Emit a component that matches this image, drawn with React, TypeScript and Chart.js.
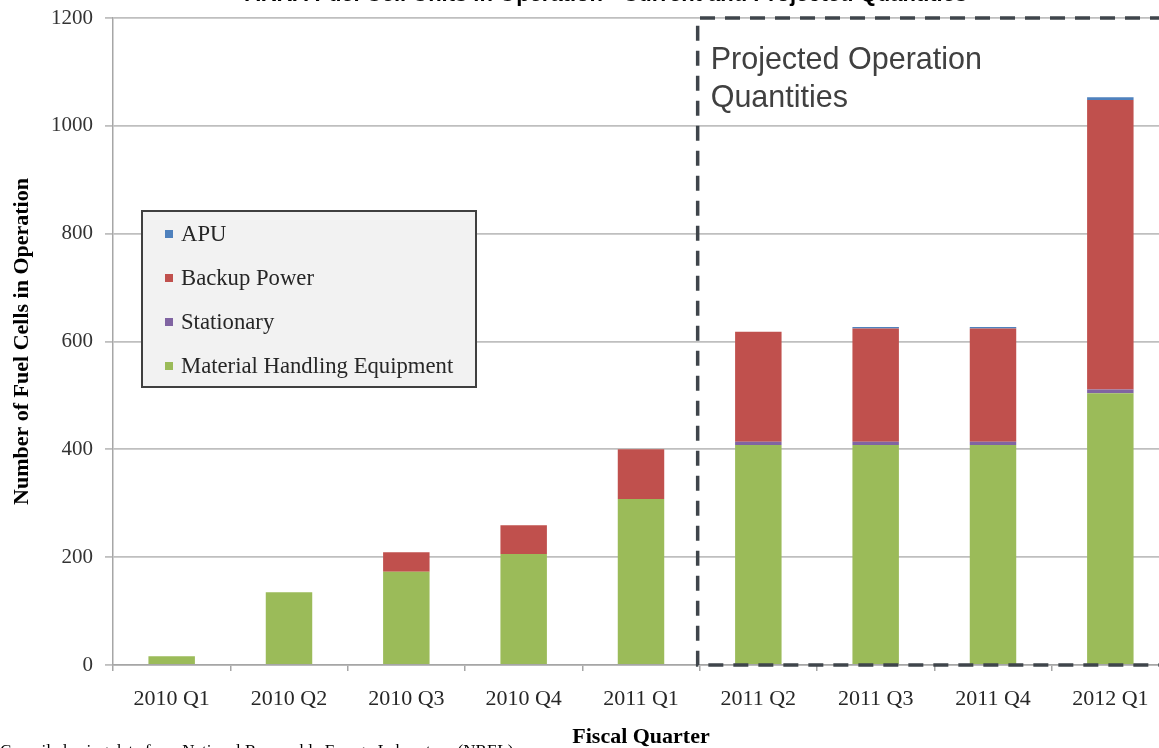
import React, { useEffect, useRef } from 'react';
import { Chart, registerables } from 'chart.js';

Chart.register(...registerables);

const categories = ['2010 Q1', '2010 Q2', '2010 Q3', '2010 Q4', '2011 Q1', '2011 Q2', '2011 Q3', '2011 Q4', '2012 Q1'];
const materialHandling = [16, 135, 173, 206, 308, 408, 408, 408, 504];
const stationary = [0, 0, 0, 0, 0, 6, 6, 6, 7];
const backupPower = [0, 0, 36, 53, 92, 204, 210, 210, 537];
const apu = [0, 0, 0, 0, 0, 0, 3, 3, 5];
const yTicks = [0, 200, 400, 600, 800, 1000, 1200];

const titleText = 'ARRA Fuel Cell Units in Operation - Current and Projected Quantities';
const projectedLines = ['Projected Operation', 'Quantities'];
const noteText = 'Compiled using data from National Renewable Energy Laboratory (NREL)';

const SERIF = '"Liberation Serif", "Times New Roman", serif';
const SANS = '"Liberation Sans", Arial, sans-serif';

const legendItems = [
  { label: 'APU', color: '#4F81BD' },
  { label: 'Backup Power', color: '#C0504D' },
  { label: 'Stationary', color: '#8064A2' },
  { label: 'Material Handling Equipment', color: '#9BBB59' },
];

const overlayPlugin = {
  id: 'overlay',
  afterDatasetsDraw(chart: any) {
    const { ctx, chartArea, scales } = chart;
    const x = scales.x;
    const y = scales.y;
    const left = (x.getPixelForValue(4) + x.getPixelForValue(5)) / 2 - 2;
    const top = y.getPixelForValue(1200);
    const bottom = y.getPixelForValue(0);
    const right = chartArea.right - 4;
    ctx.save();
    ctx.strokeStyle = '#3F454B';
    ctx.lineWidth = 3.5;
    ctx.setLineDash([15, 10]);
    ctx.beginPath();
    ctx.moveTo(right, top);
    ctx.lineTo(left, top);
    ctx.lineTo(left, bottom);
    ctx.lineTo(right, bottom);
    ctx.stroke();
    ctx.setLineDash([]);
    ctx.fillStyle = '#404040';
    ctx.font = `30.5px ${SANS}`;
    ctx.textAlign = 'left';
    ctx.textBaseline = 'alphabetic';
    ctx.fillText(projectedLines[0], left + 13, top + 51);
    ctx.fillText(projectedLines[1], left + 13, top + 89);
    ctx.restore();
  },
  afterDraw(chart: any) {
    const { ctx } = chart;
    ctx.save();
    // title (mostly cropped)
    ctx.fillStyle = '#000';
    ctx.font = `bold 22px ${SANS}`;
    ctx.textAlign = 'center';
    ctx.textBaseline = 'alphabetic';
    ctx.fillText(titleText, 606, 31);
    // legend box
    const bx = 142, by = 241, bw = 334, bh = 176;
    ctx.fillStyle = '#F2F2F2';
    ctx.fillRect(bx, by, bw, bh);
    ctx.strokeStyle = '#404040';
    ctx.lineWidth = 2;
    ctx.strokeRect(bx, by, bw, bh);
    ctx.font = `22.7px ${SERIF}`;
    ctx.textAlign = 'left';
    ctx.textBaseline = 'middle';
    legendItems.forEach((item, i) => {
      const cy = 265 + i * 44;
      ctx.fillStyle = item.color;
      ctx.fillRect(165, cy - 5, 8, 8);
      ctx.fillStyle = '#262626';
      ctx.fillText(item.label, 181, cy);
    });
    // source note (cropped)
    ctx.font = `17px ${SERIF}`;
    ctx.fillStyle = '#000';
    ctx.textBaseline = 'top';
    ctx.fillText(noteText, 0, 773);
    ctx.restore();
  },
};

export default function App() {
  const ref = useRef<HTMLCanvasElement>(null);
  useEffect(() => {
    const canvas = ref.current;
    if (!canvas) return;
    const mk = (label: string, data: number[], color: string) => ({
      label,
      data,
      backgroundColor: color,
      borderWidth: 0,
      barPercentage: 0.396,
      categoryPercentage: 1,
    });
    const chart = new Chart(canvas, {
      type: 'bar',
      data: {
        labels: categories,
        datasets: [
          mk('Material Handling Equipment', materialHandling, '#9BBB59'),
          mk('Stationary', stationary, '#8064A2'),
          mk('Backup Power', backupPower, '#C0504D'),
          mk('APU', apu, '#4F81BD'),
        ],
      },
      options: {
        responsive: false,
        animation: false,
        devicePixelRatio: 1,
        layout: { padding: { left: 0, right: 31, top: 48, bottom: 0 } },
        plugins: {
          legend: { display: false },
          title: { display: false },
          tooltip: { enabled: false },
        },
        scales: {
          x: {
            stacked: true,
            afterFit: (s: any) => { s.height = 105; },
            grid: {
              display: true,
              drawOnChartArea: false,
              drawTicks: true,
              tickLength: 6,
              color: '#A6A6A6',
              lineWidth: 1.5,
              offset: true,
            },
            border: { display: true, color: '#A6A6A6', width: 1.5 },
            ticks: {
              color: '#262626',
              padding: 15,
              maxRotation: 0,
              font: { family: SERIF, size: 22 },
            },
            title: {
              display: true,
              text: 'Fiscal Quarter',
              color: '#000',
              font: { family: SERIF, size: 22, weight: 'bold' },
              padding: { top: 4, bottom: 19 },
            },
          },
          y: {
            stacked: true,
            min: 0,
            max: 1200,
            afterFit: (s: any) => { s.width = 113; },
            afterBuildTicks: (s: any) => { s.ticks = yTicks.map((v) => ({ value: v })); },
            grid: {
              color: '#BFBFBF',
              lineWidth: 1.8,
              tickLength: 8,
              drawTicks: true,
            },
            border: { display: true, color: '#A6A6A6', width: 1.5 },
            ticks: {
              color: '#333333',
              padding: 12,
              font: { family: SERIF, size: 21 },
              callback: (v: any) => String(v),
            },
            title: {
              display: true,
              text: 'Number of Fuel Cells in Operation',
              color: '#000',
              font: { family: SERIF, size: 22, weight: 'bold' },
              padding: { top: 9, bottom: 0 },
            },
          },
        },
      },
      plugins: [overlayPlugin],
    });
    return () => chart.destroy();
  }, []);
  return (
    <div style={{ position: 'fixed', left: 0, top: 0, width: 1159, height: 748, overflow: 'hidden', background: '#fff' }}>
      <canvas ref={ref} width={1200} height={800} style={{ position: 'absolute', left: 0, top: -30, width: 1200, height: 800 }} />
    </div>
  );
}
